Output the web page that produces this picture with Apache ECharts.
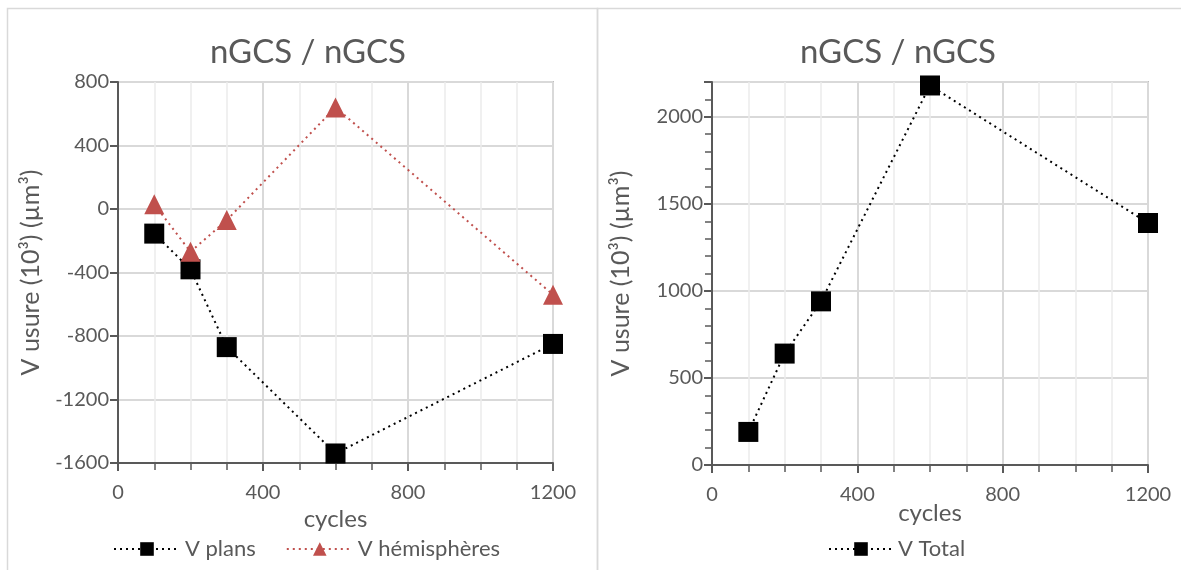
<!DOCTYPE html>
<html><head><meta charset="utf-8">
<script src="https://cdn.jsdelivr.net/npm/echarts@6/dist/echarts.min.js"></script>
<style>html,body{margin:0;padding:0;background:#fff}#c{width:1181px;height:570px}</style>
</head><body><div id="c"></div>
<script>
const cycles = [100, 200, 300, 600, 1200];
const vPlans = [-155, -380, -870, -1540, -850];
const vHemispheres = [30, -270, -70, 640, -540];
const vTotal = [190, 640, 940, 2180, 1390];
const titleText = 'nGCS / nGCS';
const yName = 'V usure (10³) (µm³)';
const xName = 'cycles';

const FONT = 'Lato';
const TXT = '#595959';
const pair = (xs, ys) => xs.map((x, i) => [x, ys[i]]);

const chart = echarts.init(document.getElementById('c'), null, {renderer: 'canvas'});

function xAxisCfg(gridIndex, nameGap) {
  return {
    type: 'value', gridIndex, min: 0, max: 1200, interval: 400,
    name: xName, nameLocation: 'middle', nameGap, nameMoveOverlap: false,
    nameTextStyle: {fontFamily: FONT, fontSize: 24, color: TXT},
    axisLine: {show: true, onZero: false, lineStyle: {color: '#595959', width: 2}},
    axisTick: {show: true, length: 8, lineStyle: {color: '#595959', width: 2}},
    minorTick: {show: true, splitNumber: 4, length: 7, lineStyle: {color: '#595959', width: 1.5}},
    axisLabel: {fontFamily: FONT, fontSize: 20, color: TXT, margin: 20, formatter: v => String(v)},
    splitLine: {show: true, lineStyle: {color: '#d9d9d9', width: 2}},
    minorSplitLine: {show: true, lineStyle: {color: '#ececec', width: 1.5}}
  };
}

const option = {
  animation: false,
  backgroundColor: '#fff',
  title: [
    {text: titleText, left: 303, top: 31, textAlign: 'center',
     textStyle: {fontFamily: FONT, fontSize: 33, fontWeight: 'normal', color: TXT}},
    {text: titleText, left: 893, top: 31, textAlign: 'center',
     textStyle: {fontFamily: FONT, fontSize: 33, fontWeight: 'normal', color: TXT}}
  ],
  graphic: [
    {type: 'rect', shape: {x: 7.5, y: 8.5, width: 590, height: 570}, style: {fill: 'none', stroke: '#d9d9d9', lineWidth: 1.5}},
    {type: 'rect', shape: {x: 597.5, y: 8.5, width: 600, height: 570}, style: {fill: 'none', stroke: '#d9d9d9', lineWidth: 1.5}}
  ],
  grid: [
    {left: 118, right: 628, top: 82, bottom: 107, show: true, borderColor: '#8c8c8c', borderWidth: 1.5, containLabel: false},
    {left: 712, right: 33, top: 82, bottom: 105, show: true, borderColor: '#8c8c8c', borderWidth: 1.5, containLabel: false}
  ],
  xAxis: [xAxisCfg(0, 44), xAxisCfg(1, 36)],
  yAxis: [
    {type: 'value', gridIndex: 0, min: -1600, max: 800, interval: 400,
     name: yName, nameLocation: 'middle', nameGap: 75, nameMoveOverlap: false,
     nameTextStyle: {fontFamily: FONT, fontSize: 25, color: TXT},
     axisLine: {show: true, onZero: false, lineStyle: {color: '#595959', width: 2}},
     axisTick: {show: true, length: 8, lineStyle: {color: '#595959', width: 2}},
     axisLabel: {fontFamily: FONT, fontSize: 20, color: TXT, margin: 9, formatter: v => String(v)},
     splitLine: {show: true, lineStyle: {color: '#d9d9d9', width: 2}}},
    {type: 'value', gridIndex: 1, min: 0, max: 2200, interval: 500,
     name: yName, nameLocation: 'middle', nameGap: 79, nameMoveOverlap: false,
     nameTextStyle: {fontFamily: FONT, fontSize: 25, color: TXT},
     axisLine: {show: true, onZero: false, lineStyle: {color: '#595959', width: 2}},
     axisTick: {show: true, length: 8, lineStyle: {color: '#595959', width: 2}},
     minorTick: {show: true, splitNumber: 5, length: 7, lineStyle: {color: '#595959', width: 1.5}},
     axisLabel: {fontFamily: FONT, fontSize: 20, color: TXT, margin: 9,
                 formatter: v => (v % 500 === 0 ? String(v) : '')},
     splitLine: {show: true, lineStyle: {color: '#d9d9d9', width: 2}}}
  ],
  legend: [
    {data: ['V plans', 'V hémisphères'], left: 108, bottom: 5, itemGap: 30, itemWidth: 66, itemHeight: 17,
     textStyle: {fontFamily: FONT, fontSize: 22, color: TXT}},
    {data: ['V Total'], left: 823, bottom: 5, itemWidth: 64, itemHeight: 17,
     textStyle: {fontFamily: FONT, fontSize: 22, color: TXT}}
  ],
  series: [
    {name: 'V plans', type: 'line', xAxisIndex: 0, yAxisIndex: 0, data: pair(cycles, vPlans),
     symbol: 'rect', symbolSize: 20, itemStyle: {color: '#000'},
     lineStyle: {color: '#000', width: 2, type: [2, 4]}},
    {name: 'V hémisphères', type: 'line', xAxisIndex: 0, yAxisIndex: 0, data: pair(cycles, vHemispheres),
     symbol: 'triangle', symbolSize: 20, itemStyle: {color: '#C0504D'},
     lineStyle: {color: '#C0504D', width: 2, type: [2, 4]}},
    {name: 'V Total', type: 'line', xAxisIndex: 1, yAxisIndex: 1, data: pair(cycles, vTotal),
     symbol: 'rect', symbolSize: 20, itemStyle: {color: '#000'},
     lineStyle: {color: '#000', width: 2, type: [2, 4]}}
  ]
};
chart.setOption(option);
</script></body></html>
